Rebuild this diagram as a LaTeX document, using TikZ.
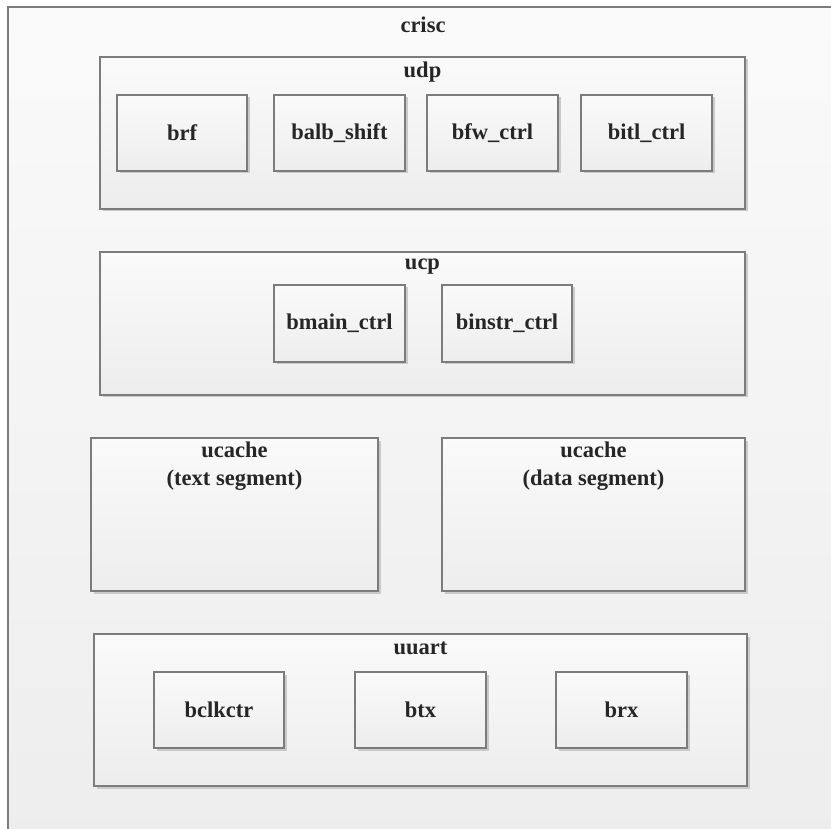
\documentclass[tikz,border=0pt]{standalone}
\usepackage{fontspec}
\setmainfont{Liberation Serif}
\usetikzlibrary{shadows}
\definecolor{edge}{HTML}{7C7C7C}
\definecolor{ink}{HTML}{262626}
\definecolor{shadegray}{HTML}{CACACA}
\begin{document}
\begin{tikzpicture}[x=1pt,y=-1pt,
  blk/.style={rectangle, draw=edge, line width=1.2pt, inner sep=0pt,
    top color=white!98!black, bottom color=white!93!black,
    drop shadow={shadow xshift=2.5pt, shadow yshift=-2.5pt, fill=shadegray, opacity=1},
    font=\fontsize{22.5}{28}\selectfont\bfseries, text=ink},
  outer/.style={rectangle, draw=edge, line width=1.2pt, inner sep=0pt,
    top color=white!98!black, bottom color=white!93!black},
  lbl/.style={inner sep=0pt, align=center, font=\fontsize{22.5}{28}\selectfont\bfseries, text=ink}]
\useasboundingbox (0,0) rectangle (831,829);
\begin{scope}
\clip (0,0) rectangle (831,829);
% top level
\node[outer, minimum width=832pt, minimum height=833pt] (crisc) at (424,423.5) {};
\node[lbl] (crisc-t) at (423,25) {crisc};

% udp
\node[blk, minimum width=645pt, minimum height=152pt] (udp) at (422.5,133) {};
\node[lbl] (udp-t) at (422.5,72) {udp};
\node[blk, minimum width=130pt, minimum height=76pt] (brf) at (182,133) {brf};
\node[blk, minimum width=131pt, minimum height=76pt] (balb) at (339.5,133) {balb\_shift};
\node[blk, minimum width=131pt, minimum height=76pt] (bfw) at (492.5,133) {bfw\_ctrl};
\node[blk, minimum width=131pt, minimum height=76pt] (bitl) at (646.5,133) {bitl\_ctrl};

% ucp
\node[blk, minimum width=645pt, minimum height=143pt] (ucp) at (422.5,323.5) {};
\node[lbl] (ucp-t) at (422.5,267) {ucp};
\node[blk, minimum width=131pt, minimum height=77pt] (bmain) at (339.5,323.5) {bmain\_ctrl};
\node[blk, minimum width=130pt, minimum height=77pt] (binstr) at (507,323.5) {binstr\_ctrl};

% caches
\node[blk, minimum width=287pt, minimum height=153pt] (ucachet) at (234.5,514.5) {};
\node[lbl, anchor=north] (ucachet-t) at (234.5,442) {ucache\\(text segment)};
\node[blk, minimum width=303pt, minimum height=153pt] (ucached) at (593.5,514.5) {};
\node[lbl, anchor=north] (ucached-t) at (593.5,442) {ucache\\(data segment)};

% uuart
\node[blk, minimum width=653pt, minimum height=152pt] (uuart) at (420.5,710) {};
\node[lbl] (uuart-t) at (420.5,648) {uuart};
\node[blk, minimum width=130pt, minimum height=76pt] (bclk) at (219,710) {bclkctr};
\node[blk, minimum width=131pt, minimum height=76pt] (btx) at (420.5,710) {btx};
\node[blk, minimum width=131pt, minimum height=76pt] (brx) at (621.5,710) {brx};
\end{scope}
\end{tikzpicture}
\end{document}
